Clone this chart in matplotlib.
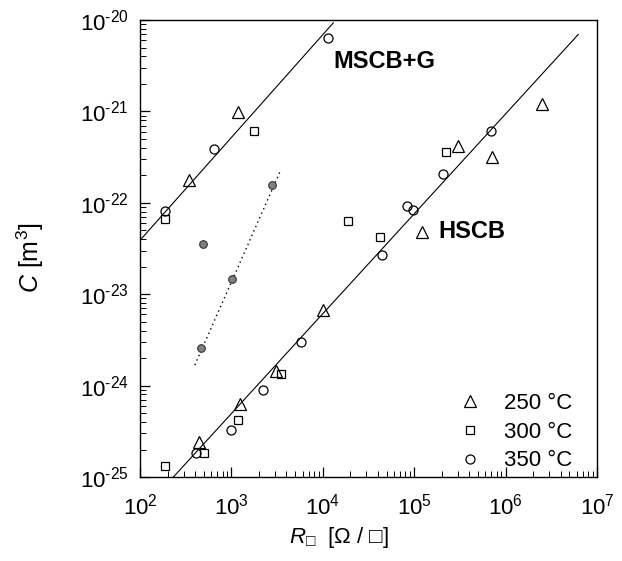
import numpy as np
import matplotlib
matplotlib.use("Agg")
import matplotlib.pyplot as plt
from matplotlib.ticker import FuncFormatter

plt.rcParams['font.family'] = ['Liberation Sans', 'DejaVu Sans']
plt.rcParams['mathtext.fontset'] = 'custom'
plt.rcParams['mathtext.rm'] = 'Liberation Sans'
plt.rcParams['mathtext.it'] = 'Liberation Sans:italic'
plt.rcParams['mathtext.fallback'] = 'stixsans'
plt.rcParams['axes.unicode_minus'] = False

# 250 C (triangles)
r_250 = [1.19e3, 3.46e2, 2.5e6, 7.1e5, 3.0e5, 1.23e5, 1.0e4, 3.1e3, 1.24e3, 4.46e2]
c_250 = [9.8e-22, 1.78e-22, 1.2e-21, 3.2e-22, 4.2e-22, 4.8e-23, 6.8e-24, 1.45e-24, 6.3e-25, 2.4e-25]
# 300 C (squares)
r_300 = [1.78e3, 1.9e2, 2.24e5, 1.9e4, 4.2e4, 3.5e3, 1.19e3, 5.0e2, 1.88e2]
c_300 = [6.1e-22, 6.6e-23, 3.56e-22, 6.4e-23, 4.2e-23, 1.33e-24, 4.2e-25, 1.82e-25, 1.32e-25]
# 350 C (circles)
r_350 = [1.15e4, 6.5e2, 1.88e2, 6.9e5, 2.04e5, 8.4e4, 9.6e4, 4.4e4, 5.75e3, 2.2e3, 9.8e2, 4.1e2]
c_350 = [6.3e-21, 3.9e-22, 8.1e-23, 6.1e-22, 2.07e-22, 9.3e-23, 8.3e-23, 2.7e-23, 3.0e-24, 8.9e-25, 3.3e-25, 1.82e-25]
# grey points
r_grey = [2.8e3, 4.9e2, 1.02e3, 4.7e2]
c_grey = [1.55e-22, 3.55e-23, 1.48e-23, 2.6e-24]

# fit lines: log10(C) = a + b * log10(R), over a log10(R) range
fit_mscb = (-22.41 - 1.125 * 2, 1.125, 2.0, 4.115)
fit_hscb = (-25.0 - 1.093 * 2.365, 1.093, 2.365, 6.795)
fit_grey = (-23.775 - 2.27 * 2.60, 2.27, 2.60, 3.54)

x_decades = np.arange(2, 8)
y_decades = np.arange(-25, -19)

fig = plt.figure(figsize=(6.22, 5.61), dpi=100)
ax = fig.add_axes([0.2251, 0.1497, 0.7347, 0.8146])
ax.set_xscale('log')
ax.set_yscale('log')

def fit_line(f, **kw):
    a, b, x0, x1 = f
    lx = np.array([x0, x1])
    ax.plot(10 ** lx, 10 ** (a + b * lx), **kw)

fit_line(fit_mscb, color='black', lw=0.8)
fit_line(fit_hscb, color='black', lw=0.8)
fit_line(fit_grey, color='black', lw=1.0, ls=(0, (1, 2.5)))

mk = dict(mfc='none', mec='black', mew=0.9, ls='none')
ax.plot(r_250, c_250, marker='^', ms=8, label='250 °C', **mk)
ax.plot(r_300, c_300, marker='s', ms=6, label='300 °C', **mk)
ax.plot(r_350, c_350, marker='o', ms=6.5, label='350 °C', **mk)
ax.plot(r_grey, c_grey, marker='o', ls='none', ms=5.5, mfc='#808080', mec='#333333', mew=0.8)

ax.text(1.3e4, 3.5e-21, 'MSCB+G', fontsize=17, fontweight='bold', va='center', ha='left')
ax.text(1.82e5, 4.9e-23, 'HSCB', fontsize=17, fontweight='bold', va='center', ha='left')

def pow_fmt(v, pos):
    e = int(round(np.log10(v)))
    if e < 0:
        return r'$10^{\text{-}%d}$' % (-e)
    return r'$10^{%d}$' % e

subs = np.arange(2, 10)
ax.set_xticks(10.0 ** x_decades)
ax.set_yticks(10.0 ** y_decades)
ax.set_xticks([s * 10.0 ** d for d in x_decades[:-1] for s in subs], minor=True)
ax.set_yticks([s * 10.0 ** d for d in y_decades[:-1] for s in subs], minor=True)
ax.set_xticklabels([], minor=True)
ax.set_yticklabels([], minor=True)
ax.xaxis.set_major_formatter(FuncFormatter(pow_fmt))
ax.yaxis.set_major_formatter(FuncFormatter(pow_fmt))
ax.set_xlim(1e2, 1e7)
ax.set_ylim(1e-25, 1e-20)

ax.tick_params(which='both', direction='in', top=False, right=False, labelsize=16)
ax.tick_params(axis='x', which='major', pad=12)
ax.tick_params(axis='y', which='major', pad=8)
ax.tick_params(which='major', length=7, width=0.9)
ax.tick_params(which='minor', length=4, width=0.7)
for s in ax.spines.values():
    s.set_linewidth(1.0)

ax.set_xlabel('$R_{\u25a1}$  [$\\Omega$ / \u25a1]', fontsize=16)
ax.set_ylabel(r'$C$ [m$^3$]', fontsize=18)
ax.xaxis.set_label_coords(0.435, -0.105)
ax.yaxis.set_label_coords(-0.205, 0.479)

ax.legend(loc='lower right', bbox_to_anchor=(0.971, -0.012), frameon=False, fontsize=16,
          handletextpad=0.8, labelspacing=0.35, borderpad=0, handlelength=1.5)

fig.savefig('out.png', dpi=100)
